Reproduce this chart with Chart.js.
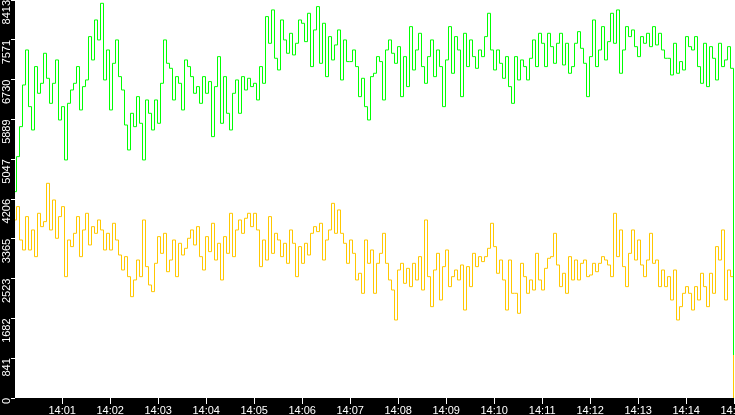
<!DOCTYPE html>
<html lang="en">
<head>
  <meta charset="UTF-8">
  <title>Live rate monitor</title>
  <style>
    html, body { margin: 0; padding: 0; background: #000; overflow: hidden; }
    canvas { display: block; }
  </style>
</head>
<body>
  <canvas id="rateChart" width="735" height="415"></canvas>

  <script src="https://cdn.jsdelivr.net/npm/chart.js"></script>
  <script>
    // one sample every 3.75 s (seconds after 14:00:00)
    const sampleStart = -0.875;
    const sampleStep = 3.75;

    const greenValues = [
      4362, 5102, 5736, 6617, 7357, 6159, 5666, 7005, 6441, 6652, 7287, 6758, 6229, 6652, 7146, 5877, 6159, 5032, 6229, 6511,
      6652, 7005, 6089, 6582, 6723, 7639, 7146, 7991, 7569, 8343, 6723, 7357, 6089, 7075, 7569, 6793, 6511, 5771, 5243, 6018,
      5736, 6370, 5807, 5032, 6300, 6018, 5666, 6300, 5807, 6652, 7569, 7075, 6969, 6300, 6793, 6652, 6089, 7146, 7005, 6793,
      6441, 6582, 6229, 6793, 6441, 6688, 5525, 6582, 7216, 5807, 6793, 6018, 5666, 6441, 6723, 6018, 6793, 6511, 6758, 6582,
      6652, 6300, 7005, 6652, 8062, 7498, 8203, 7181, 6934, 7991, 7569, 7287, 7709, 7252, 7498, 7991, 7921, 7533, 8132, 7005,
      7780, 8273, 7075, 7921, 6793, 7639, 7146, 7463, 7780, 6723, 7569, 7111, 7111, 7357, 7005, 6370, 6758, 6159, 5877, 6793,
      6864, 7216, 7111, 6300, 7357, 7569, 7287, 7075, 7427, 6370, 7216, 6582, 7850, 6934, 7357, 7709, 7005, 6652, 7216, 7569,
      6793, 7357, 7005, 6159, 7146, 7850, 6864, 7639, 7357, 6370, 7709, 7005, 7569, 7216, 6969, 7357, 7216, 7639, 8132, 7357,
      6934, 7357, 7075, 6758, 7216, 6582, 6229, 7216, 6723, 7146, 7005, 6723, 7181, 7569, 7005, 7709, 7498, 7005, 7709, 7427,
      7075, 7498, 7709, 7040, 7498, 6864, 7005, 7498, 7744, 7392, 7075, 6370, 7216, 7991, 7005, 7357, 7850, 7146, 7533, 8132,
      7498, 8203, 6864, 7357, 7850, 7639, 7780, 7427, 7216, 7639, 7498, 7709, 7427, 7850, 7463, 7709, 7357, 7181, 7181, 6828,
      7498, 6864, 7111, 6934, 7639, 7427, 7357, 7639, 7005, 6652, 7498, 6582, 7427, 7181, 6723, 7498, 7005, 7146, 7427, 6969,
      909
    ];

    const yellowValues = [
      3763, 4045, 3340, 3129, 3834, 3129, 3552, 2988, 3904, 3622, 3728, 4538, 3552, 4186, 3376, 3834, 4045, 2565, 3340, 3200,
      3481, 3834, 2988, 3552, 3904, 3235, 3622, 3481, 3763, 3552, 3129, 3481, 3129, 3693, 3340, 3023, 2706, 2988, 2565, 2142,
      2495, 2917, 2565, 3763, 2777, 2389, 2248, 2847, 3411, 3058, 3481, 2670, 2917, 3340, 2565, 3270, 3023, 3164, 3376, 3552,
      3235, 3622, 2988, 2706, 3411, 3094, 3693, 2917, 3270, 2495, 3411, 3058, 3904, 2988, 3552, 3763, 3481, 3799, 3904, 3622,
      3904, 3552, 2777, 3340, 2917, 3834, 3058, 3481, 3340, 2988, 3270, 2847, 3552, 3270, 2565, 3200, 2847, 3270, 3023, 3481,
      3622, 3517, 3693, 2917, 3340, 3552, 4115, 3481, 3975, 3481, 3270, 2847, 3340, 3058, 2495, 2636, 2213, 3340, 2847, 3129,
      2213, 2847, 3058, 3481, 2847, 2495, 2283, 1649, 2706, 2847, 2424, 2741, 2354, 2847, 2495, 2988, 2283, 3763, 2565, 1931,
      2706, 3058, 2072, 2777, 3129, 2354, 2565, 2706, 2495, 2812, 1860, 2777, 2354, 3058, 2777, 2988, 2883, 2988, 3164, 3693,
      3200, 2636, 2917, 2495, 1860, 2917, 2213, 2213, 1790, 2847, 2565, 2213, 2495, 2283, 3058, 2495, 2283, 2741, 2953, 2988,
      3481, 2812, 2354, 2636, 2213, 2988, 2495, 2917, 2495, 2847, 2917, 2565, 2600, 2847, 2670, 2847, 2988, 2917, 2812, 2565,
      3904, 2988, 3552, 2777, 2354, 3058, 3552, 2917, 3340, 2812, 2565, 2917, 3481, 2847, 2917, 2354, 2706, 2354, 2565, 2072,
      2706, 1649, 1931, 2213, 2354, 2213, 1860, 2354, 2072, 2636, 2354, 1931, 2636, 2213, 3200, 2917, 3552, 2072, 2706, 2565,
      0
    ];

    const yTickValues = [0, 841.3, 1682.6, 2523.9, 3365.2, 4206.5, 5047.8, 5889.1, 6730.4, 7571.7, 8413];
    const yTickLabels = ['0', '841', '1682', '2523', '3365', '4206', '5047', '5889', '6730', '7571', '8413'];

    const xTickSeconds = [60, 120, 180, 240, 300, 360, 420, 480, 540, 600, 660, 720, 780, 840, 900];
    const xTickLabels = ['14:01', '14:02', '14:03', '14:04', '14:05', '14:06', '14:07', '14:08',
                         '14:09', '14:10', '14:11', '14:12', '14:13', '14:14', '14:15'];

    const toPoints = values => values.map((v, i) => ({ x: sampleStart + i * sampleStep, y: v }));

    const axisFont = { family: 'Liberation Sans', size: 11 };

    // black frame around a white plot area
    const frame = {
      id: 'frame',
      beforeDraw(chart) {
        const { ctx, chartArea: a } = chart;
        ctx.save();
        ctx.fillStyle = '#000';
        ctx.fillRect(0, 0, chart.width, chart.height);
        ctx.fillStyle = '#fff';
        ctx.fillRect(a.left, a.top, a.right - a.left, a.bottom - a.top);
        ctx.restore();
      }
    };

    new Chart(document.getElementById('rateChart'), {
      type: 'line',
      data: {
        datasets: [
          {
            label: 'green',
            data: toPoints(greenValues),
            borderColor: '#00ff00',
            borderWidth: 1,
            stepped: true,
            pointRadius: 0,
            fill: false
          },
          {
            label: 'yellow',
            data: toPoints(yellowValues),
            borderColor: '#ffc800',
            borderWidth: 1,
            stepped: true,
            pointRadius: 0,
            fill: false
          }
        ]
      },
      options: {
        responsive: false,
        animation: false,
        devicePixelRatio: 1,
        layout: { padding: 0 },
        plugins: { legend: { display: false }, tooltip: { enabled: false } },
        scales: {
          x: {
            type: 'linear',
            min: 1,
            max: 901,
            afterBuildTicks: s => { s.ticks = xTickSeconds.map(v => ({ value: v })); },
            afterFit: s => { s.height = 17; s.paddingLeft = 0; s.paddingRight = 0; },
            ticks: {
              autoSkip: false,
              maxRotation: 0,
              padding: 0,
              color: '#fff',
              font: axisFont,
              callback: v => xTickLabels[xTickSeconds.indexOf(v)]
            },
            grid: { drawOnChartArea: false, color: '#fff', tickLength: 6 },
            border: { display: false }
          },
          y: {
            min: 0,
            max: 8413,
            afterBuildTicks: s => { s.ticks = yTickValues.map(v => ({ value: v })); },
            afterFit: s => { s.width = 15; s.paddingTop = 0; s.paddingBottom = 0; },
            ticks: {
              autoSkip: false,
              minRotation: 90,
              maxRotation: 90,
              padding: 4,
              color: '#fff',
              font: axisFont,
              callback: v => yTickLabels[yTickValues.indexOf(v)]
            },
            grid: { drawOnChartArea: false, color: '#fff', tickLength: 4 },
            border: { display: false }
          }
        }
      },
      plugins: [frame]
    });
  </script>
</body>
</html>
